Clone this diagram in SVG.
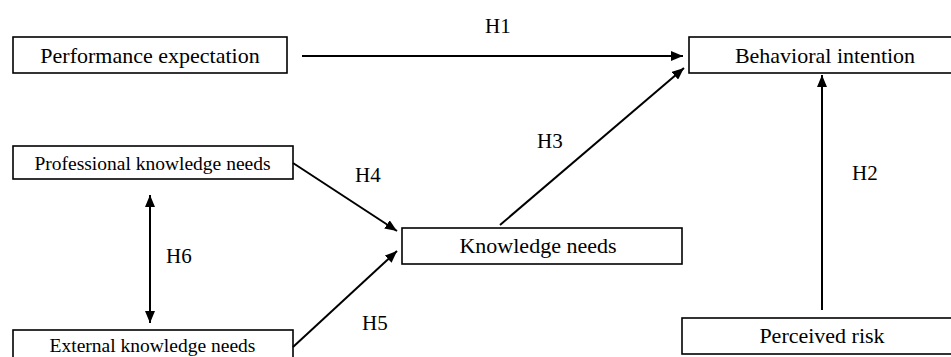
<svg xmlns="http://www.w3.org/2000/svg" width="951" height="357" viewBox="0 0 951 357">
<style>
.box{fill:#fff;stroke:#000;stroke-width:1.6}
.t{font-family:"Liberation Serif","Times New Roman",serif;fill:#000;text-anchor:middle}
.big{font-size:22px}
.small{font-size:19.5px}
.lab{font-family:"Liberation Serif","Times New Roman",serif;font-size:21px;fill:#000}
.c{stroke:#000;stroke-width:2;fill:none}
</style>
<defs>
<marker id="ah" viewBox="0 0 12 10" refX="12" refY="5" markerWidth="12" markerHeight="10" markerUnits="userSpaceOnUse" orient="auto-start-reverse">
<path d="M0,0 L12,5 L0,10 Z" fill="#000"/>
</marker>
</defs>
<rect width="951" height="357" fill="#fff"/>
<g id="performance">
<rect class="box" x="13" y="37" width="274" height="36"/>
<text class="t big" x="150" y="63">Performance expectation</text>
</g>
<g id="behavioral">
<rect class="box" x="689" y="37" width="270" height="36"/>
<text class="t big" x="825" y="63">Behavioral  intention</text>
</g>
<g id="professional">
<rect class="box" x="13" y="146" width="280" height="33"/>
<text class="t small" x="152.5" y="170">Professional knowledge needs</text>
</g>
<g id="knowledge">
<rect class="box" x="402" y="228" width="280" height="36"/>
<text class="t big" x="538" y="253">Knowledge needs</text>
</g>
<g id="external">
<rect class="box" x="13" y="330" width="280" height="40"/>
<text class="t small" x="152.5" y="351.5">External knowledge needs</text>
</g>
<g id="perceived">
<rect class="box" x="682" y="318" width="280" height="36"/>
<text class="t big" x="822" y="343">Perceived risk</text>
</g>
<g id="connectors">
<line class="c" x1="302" y1="56" x2="683" y2="56" marker-end="url(#ah)"/>
<line class="c" x1="500" y1="225" x2="684" y2="68" marker-end="url(#ah)"/>
<line class="c" x1="822" y1="310" x2="822" y2="75" marker-end="url(#ah)"/>
<line class="c" x1="293" y1="163" x2="397" y2="231" marker-end="url(#ah)"/>
<line class="c" x1="293" y1="347" x2="397" y2="251" marker-end="url(#ah)"/>
<line class="c" x1="150" y1="195" x2="150" y2="323" marker-start="url(#ah)" marker-end="url(#ah)"/>
<text class="lab" x="485" y="33">H1</text>
<text class="lab" x="852" y="180">H2</text>
<text class="lab" x="537" y="148">H3</text>
<text class="lab" x="355" y="182">H4</text>
<text class="lab" x="362" y="330">H5</text>
<text class="lab" x="166" y="263">H6</text>
</g>
</svg>
